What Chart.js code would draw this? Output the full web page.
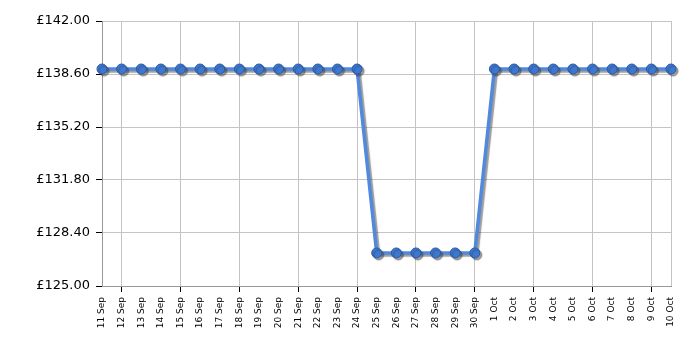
<!DOCTYPE html>
<html>
<head>
<meta charset="utf-8">
<script src="https://cdn.jsdelivr.net/npm/chart.js@4/dist/chart.umd.min.js"></script>
<style>
  html, body { margin: 0; padding: 0; background: #fff; }
  canvas { display: block; }
</style>
</head>
<body>
<canvas id="priceChart" width="700" height="350"></canvas>
<script>
const dates = [
  "11 Sep", "12 Sep", "13 Sep", "14 Sep", "15 Sep", "16 Sep", "17 Sep", "18 Sep",
  "19 Sep", "20 Sep", "21 Sep", "22 Sep", "23 Sep", "24 Sep", "25 Sep", "26 Sep",
  "27 Sep", "28 Sep", "29 Sep", "30 Sep", "1 Oct", "2 Oct", "3 Oct", "4 Oct",
  "5 Oct", "6 Oct", "7 Oct", "8 Oct", "9 Oct", "10 Oct"
];
const prices = [
  138.92, 138.92, 138.92, 138.92, 138.92, 138.92, 138.92, 138.92,
  138.92, 138.92, 138.92, 138.92, 138.92, 138.92, 127.12, 127.12,
  127.12, 127.12, 127.12, 127.12, 138.92, 138.92, 138.92, 138.92,
  138.92, 138.92, 138.92, 138.92, 138.92, 138.92
];
const yMin = 125;
const yMax = 142;
const yStep = 3.4;

const gridGray = "#c4c4c4";

// gray drop shadow under the line and the dots
const shadowPlugin = {
  id: "shadow",
  beforeDatasetDraw(chart) {
    const c = chart.ctx;
    c.save();
    c.shadowColor = "rgba(60,60,60,0.5)";
    c.shadowOffsetX = 2;
    c.shadowOffsetY = 2;
    c.shadowBlur = 1;
  },
  afterDatasetDraw(chart) {
    chart.ctx.restore();
  }
};

const ctx = document.getElementById("priceChart").getContext("2d");

const myChart = new Chart(ctx, {
  type: "line",
  data: {
    labels: dates,
    datasets: [
      {
        data: prices,
        borderColor: "#5189dd",
        borderWidth: 3.5,
        backgroundColor: "#3c77d2",
        pointBackgroundColor: "#3c77d2",
        pointBorderColor: "#2a5aa8",
        pointBorderWidth: 1,
        pointRadius: 5,
        pointHoverRadius: 5,
        tension: 0,
        clip: false,
      },
    ],
  },
  plugins: [shadowPlugin],
  options: {
    responsive: false,
    animation: false,
    devicePixelRatio: 1,
    layout: {
      padding: { top: 21, right: 29, left: 0, bottom: 0 },
    },
    plugins: {
      legend: { display: false },
      tooltip: { enabled: false },
    },
    scales: {
      x: {
        grid: {
          color: (c) => (c.index % 3 === 1 || c.index === dates.length - 1 ? gridGray : "rgba(0,0,0,0)"),
          tickColor: (c) => (c.index % 3 === 1 ? "#000" : "rgba(0,0,0,0)"),
          tickLength: 6,
          lineWidth: 1,
        },
        border: { color: "#999", width: 1 },
        ticks: {
          autoSkip: false,
          maxRotation: 90,
          minRotation: 90,
          padding: 5,
          color: "#000",
          font: { family: "DejaVu Sans", size: 9 },
        },
        afterFit(scale) {
          scale.height = 64;
        },
      },
      y: {
        min: yMin,
        max: yMax,
        grid: {
          color: gridGray,
          tickColor: "#000",
          tickLength: 6,
        },
        border: { color: "#999", width: 1 },
        ticks: {
          stepSize: yStep,
          padding: 6,
          color: "#000",
          font: { family: "DejaVu Sans", size: 13 },
          callback: (v) => "£" + Number(v).toFixed(2),
        },
        afterFit(scale) {
          scale.width = 102;
        },
      },
    },
  },
});
</script>
</body>
</html>
